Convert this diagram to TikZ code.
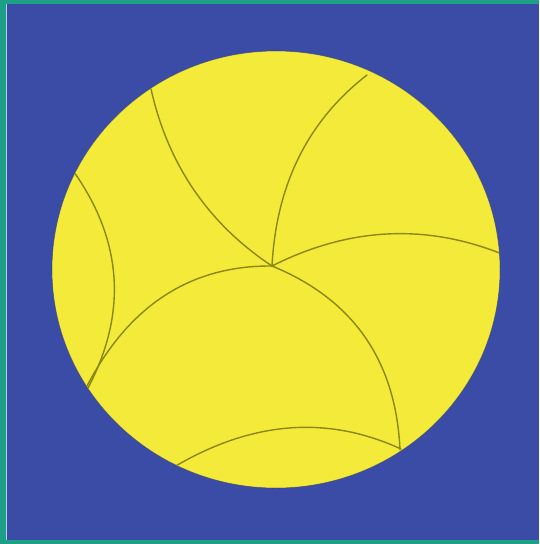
\documentclass[tikz,border=0pt]{standalone}
\definecolor{bgblue}{RGB}{58,76,166}
\definecolor{disc}{RGB}{243,234,58}
\definecolor{seamc}{RGB}{138,136,12}
\definecolor{tealb}{RGB}{30,160,135}
\definecolor{pale}{RGB}{170,210,235}
\tikzset{seam/.style={draw=seamc,line width=1.4pt,line cap=round}}
\begin{document}
\begin{tikzpicture}[x=1pt,y=-1pt]
\useasboundingbox (0,0) rectangle (539,544);
% background and frame
\fill[tealb] (0,0) rectangle (539,544);
\fill[bgblue] (6,4) rectangle (539,540);
\draw[pale,line width=1pt] (6.5,4) -- (6.5,540);
% disc
\coordinate (c) at (276,269.5);
\fill[disc] (c) ellipse [x radius=224, y radius=218.5];
\draw[bgblue!60!black,line width=0.6pt,opacity=0.5] (c) ellipse [x radius=224, y radius=218.5];
\begin{scope}
\clip (c) ellipse [x radius=223.5, y radius=218];
\coordinate (J) at (272,266);
\coordinate (a1) at (151,89);
\coordinate (a2) at (367,75);
\coordinate (a3) at (502,254);
\coordinate (a4) at (400,450);
\coordinate (a5) at (86,388);
\coordinate (b6) at (74,172);
\coordinate (e6) at (88,388);
\coordinate (b7) at (174,467);
\coordinate (e7) at (401,449);
\draw[seam] (a1) .. controls (168,164.7) and (208.3,223.7) .. (J);
\draw[seam] (a2) .. controls (308,120.7) and (276.3,184.3) .. (J);
\draw[seam] (J) .. controls (348.7,227.3) and (425.3,223.3) .. (a3);
\draw[seam] (J) .. controls (353.3,299.3) and (396,360.7) .. (a4);
\draw[seam] (J) .. controls (190,265.3) and (128,306) .. (a5);
\draw[seam] (b6) .. controls (122.7,241.3) and (127.3,313.3) .. (e6);
\draw[seam] (b7) .. controls (251.7,421) and (327.3,415) .. (e7);
\end{scope}
\end{tikzpicture}
\end{document}
